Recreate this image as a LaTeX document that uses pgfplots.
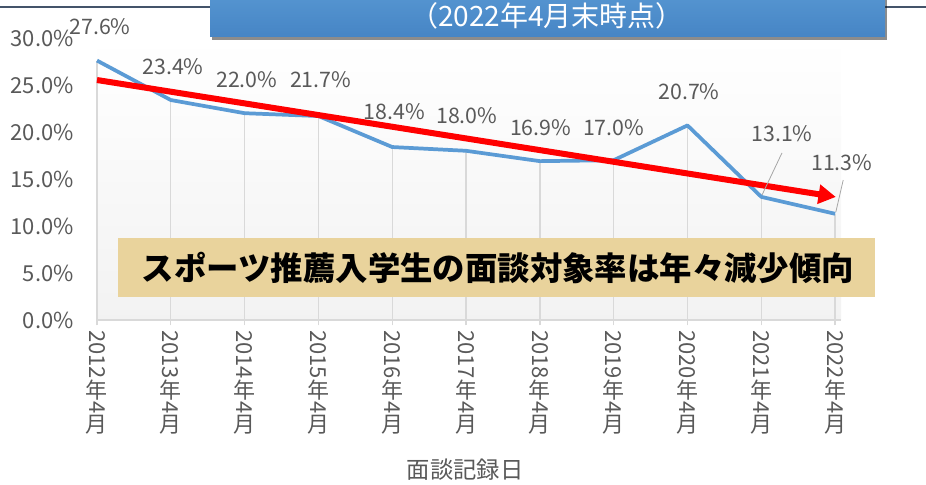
\documentclass[border=0pt]{standalone}
\usepackage{fontspec}
\setmainfont{Noto Sans CJK JP}
\usepackage{pgfplots}
\pgfplotsset{compat=1.18}
\usetikzlibrary{arrows.meta,shadows}
\definecolor{lblue}{HTML}{5B9BD5}
\definecolor{lgray}{HTML}{595959}
\definecolor{gridc}{HTML}{D9D9D9}
\definecolor{papyrus}{HTML}{E9D39C}
\definecolor{bannertop}{HTML}{5B9BD5}
\definecolor{bannerbot}{HTML}{4685C5}
\definecolor{topline}{HTML}{44546A}
\tikzset{lbl/.style={font=\fontsize{16pt}{18pt}\selectfont, text=lgray}}
\newcommand\xl[1]{\rotatebox{-90}{#1}\\年\\\rotatebox{-90}{4}\\月}
\begin{document}
\begin{tikzpicture}
\useasboundingbox (0,0) rectangle (694.5pt,363.75pt);
\clip (0,0) rectangle (694.5pt,363.75pt);
\draw[topline, line width=0.9pt] (0,358.5pt) -- (694.5pt,358.5pt);
\begin{axis}[
  at={(72.75pt,123.75pt)}, anchor=origin,
  scale only axis, width=558pt, height=211.5pt,
  xmin=0, xmax=10.08, ymin=0, ymax=30,
  clip=false,
  axis lines=left,
  x axis line style={draw=gridc, line width=1pt, -},
  y axis line style={draw=none},
  xtick={0,...,10},
  xticklabels={{\xl{2012}},{\xl{2013}},{\xl{2014}},{\xl{2015}},{\xl{2016}},{\xl{2017}},{\xl{2018}},{\xl{2019}},{\xl{2020}},{\xl{2021}},{\xl{2022}}},
  ytick={0,5,...,30},
  yticklabel={\pgfmathprintnumber[fixed,fixed zerofill,precision=1]{\tick}\%},
  /pgf/number format/assume math mode=true,
  ticklabel style={font=\fontsize{16.5pt}{1pt}\selectfont, text=lgray},
  xticklabel style={align=center, anchor=north},
  yticklabel style={anchor=east, xshift=-10pt},
  x tick style={draw=gridc, line width=1pt},
  y tick style={draw=none},
  tick align=outside, major tick length=4pt,
  axis background/.style={top color=white, bottom color=gray!10},
]
\addplot[ycomb, draw=gridc, line width=1pt, mark=none] coordinates {
(0,27.6) (1,23.4) (2,22.0) (3,21.7) (4,18.4) (5,18.0) (6,16.9) (7,17.0) (8,20.7) (9,13.1) (10,11.3)};
\addplot[lblue, line width=2.8pt, line join=round, mark=none] coordinates {
(0,27.6) (1,23.4) (2,22.0) (3,21.7) (4,18.4) (5,18.0) (6,16.9) (7,17.0) (8,20.7) (9,13.1) (10,11.3)};
\addplot[red, line width=4.5pt, mark=none, -{Triangle[length=13pt,width=14pt]}] coordinates {(0,25.53) (10.01,13.09)};
\draw[gray!70, line width=0.6pt] (axis cs:9.28,17.77) -- (axis cs:9.01,13.30);
\draw[gray!70, line width=0.6pt] (axis cs:10.11,14.89) -- (axis cs:10.01,11.49);
\node[lbl] at (axis cs:0.04,31.17) {27.6\%};
\node[lbl] at (axis cs:1.03,26.91) {23.4\%};
\node[lbl] at (axis cs:2.03,25.53) {22.0\%};
\node[lbl] at (axis cs:3.03,25.53) {21.7\%};
\node[lbl] at (axis cs:4.03,22.13) {18.4\%};
\node[lbl] at (axis cs:5.01,21.70) {18.0\%};
\node[lbl] at (axis cs:6.01,20.43) {16.9\%};
\node[lbl] at (axis cs:7.00,20.43) {17.0\%};
\node[lbl] at (axis cs:8.02,24.26) {20.7\%};
\node[lbl] at (axis cs:9.28,19.79) {13.1\%};
\node[lbl] at (axis cs:10.09,16.70) {11.3\%};
\end{axis}
\node[font=\fontsize{17.5pt}{20pt}\selectfont, text=lgray] at (348.75pt,11.25pt) {面談記録日};
\path[top color=bannertop, bottom color=bannerbot, drop shadow={shadow xshift=1.5pt, shadow yshift=-2.5pt, opacity=0.45, fill=black}] (157.5pt,336pt) rectangle (663.75pt,380pt);
\node[anchor=base, text=white, font=\fontsize{21pt}{24pt}\selectfont] at (410.25pt,343.5pt) {（2022年4月末時点）};
\fill[papyrus] (88.5pt,141pt) rectangle (656.25pt,185.25pt);
\node[font=\fontsize{24.3pt}{28pt}\selectfont\bfseries] at (373.5pt,162.75pt) {スポーツ推薦入学生の面談対象率は年々減少傾向};
\end{tikzpicture}
\end{document}
